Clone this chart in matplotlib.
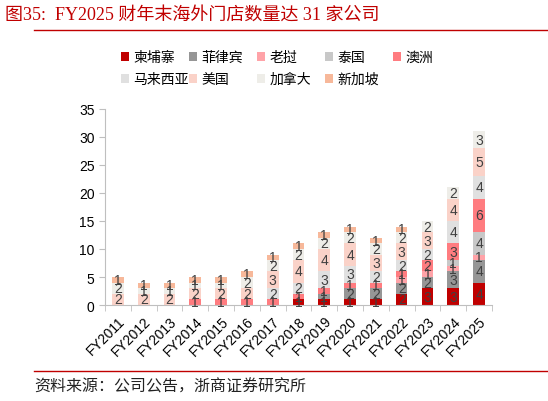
import matplotlib.pyplot as plt
import numpy as np
from matplotlib.lines import Line2D

plt.rcParams['font.family'] = ['Liberation Sans', 'Noto Sans CJK SC']

years = ['FY2011', 'FY2012', 'FY2013', 'FY2014', 'FY2015', 'FY2016', 'FY2017', 'FY2018',
         'FY2019', 'FY2020', 'FY2021', 'FY2022', 'FY2023', 'FY2024', 'FY2025']

cambodia = [0, 0, 0, 0, 0, 0, 0, 1, 1, 1, 1, 2, 3, 3, 4]
philippines = [0, 0, 0, 0, 0, 0, 0, 0, 1, 2, 2, 2, 2, 3, 4]
laos = [0, 0, 0, 0, 0, 0, 0, 0, 0, 0, 0, 1, 1, 1, 1]
thailand = [0, 0, 0, 0, 0, 0, 0, 0, 0, 0, 0, 0, 0, 1, 4]
australia = [0, 0, 0, 1, 1, 1, 1, 1, 1, 1, 1, 1, 2, 3, 6]
malaysia = [0, 0, 0, 0, 0, 0, 2, 2, 3, 3, 2, 2, 2, 4, 4]
usa = [2, 2, 2, 2, 2, 2, 3, 4, 4, 4, 3, 3, 3, 4, 5]
canada = [2, 1, 1, 1, 1, 2, 2, 2, 2, 2, 2, 2, 2, 2, 3]
singapore = [1, 1, 1, 1, 1, 1, 1, 1, 1, 1, 1, 1, 0, 0, 0]

names = ['柬埔寨', '菲律宾', '老挝', '泰国', '澳洲', '马来西亚', '美国', '加拿大', '新加坡']
series = [cambodia, philippines, laos, thailand, australia, malaysia, usa, canada, singapore]
colors = ['#C00000', '#969696', '#FFA3A8', '#C8C8C8', '#FF7C80', '#E0E0E0',
          '#FAD2C8', '#EEEDE8', '#F7B89A']

fig = plt.figure(figsize=(5.48, 4.02), dpi=100)
ax = fig.add_axes([0.1916, 0.2388, 0.7062, 0.4876])

x = np.arange(len(years))
bottom = np.zeros(len(years))
for name, vals, c in zip(names, series, colors):
    vals = np.array(vals, dtype=float)
    ax.bar(x, vals, 0.45, bottom=bottom, color=c, label=name, zorder=2)
    for xi, v, b in zip(x, vals, bottom):
        if v > 0:
            ax.text(xi, b + v / 2, f'{int(v)}', ha='center', va='center',
                    fontsize=10, color='#404040', zorder=3)
    bottom += vals

ax.set_xlim(-0.5, len(years) - 0.5)
ax.set_ylim(0, 35)
ax.set_yticks(range(0, 36, 5))
ax.set_xticks(x)
ax.set_xticklabels(years, rotation=45, ha='right', rotation_mode='anchor', fontsize=10)
ax.set_xticks(np.arange(-0.5, len(years), 1), minor=True)
ax.tick_params(axis='x', which='major', length=0, pad=6)
ax.tick_params(axis='x', which='minor', length=4, color='#BFBFBF')
ax.tick_params(axis='y', length=4, color='#BFBFBF', labelsize=10)
for s in ['top', 'right']:
    ax.spines[s].set_visible(False)
for s in ['left', 'bottom']:
    ax.spines[s].set_color('#BFBFBF')

# legend laid out on a fixed grid, 5 per row
handles, labels = ax.get_legend_handles_labels()
for i, (h, l) in enumerate(zip(handles, labels)):
    col, row = i % 5, i // 5
    fig.legend([h], [l], loc='center left',
               bbox_to_anchor=(0.2208 + col * 0.1241, 0.8557 - row * 0.0547),
               frameon=False, fontsize=10, handlelength=0.6, handleheight=0.6,
               handletextpad=0.3, borderpad=0, borderaxespad=0)

fig.text(0.01, 0.962, '图35:  FY2025 财年末海外门店数量达 31 家公司', color='#C00000',
         fontsize=13, va='center', family=['Liberation Serif', 'Noto Sans CJK SC'])
fig.add_artist(Line2D([0.062, 1.0], [0.922, 0.922], color='#C00000', lw=1))
fig.add_artist(Line2D([0.062, 1.0], [0.075, 0.075], color='#C00000', lw=1))
fig.text(0.062, 0.035, '资料来源：公司公告，浙商证券研究所', color='#222222',
         fontsize=11.5, va='center', family=['Liberation Serif', 'Noto Sans CJK SC'])

fig.savefig('out.png', dpi=100)
